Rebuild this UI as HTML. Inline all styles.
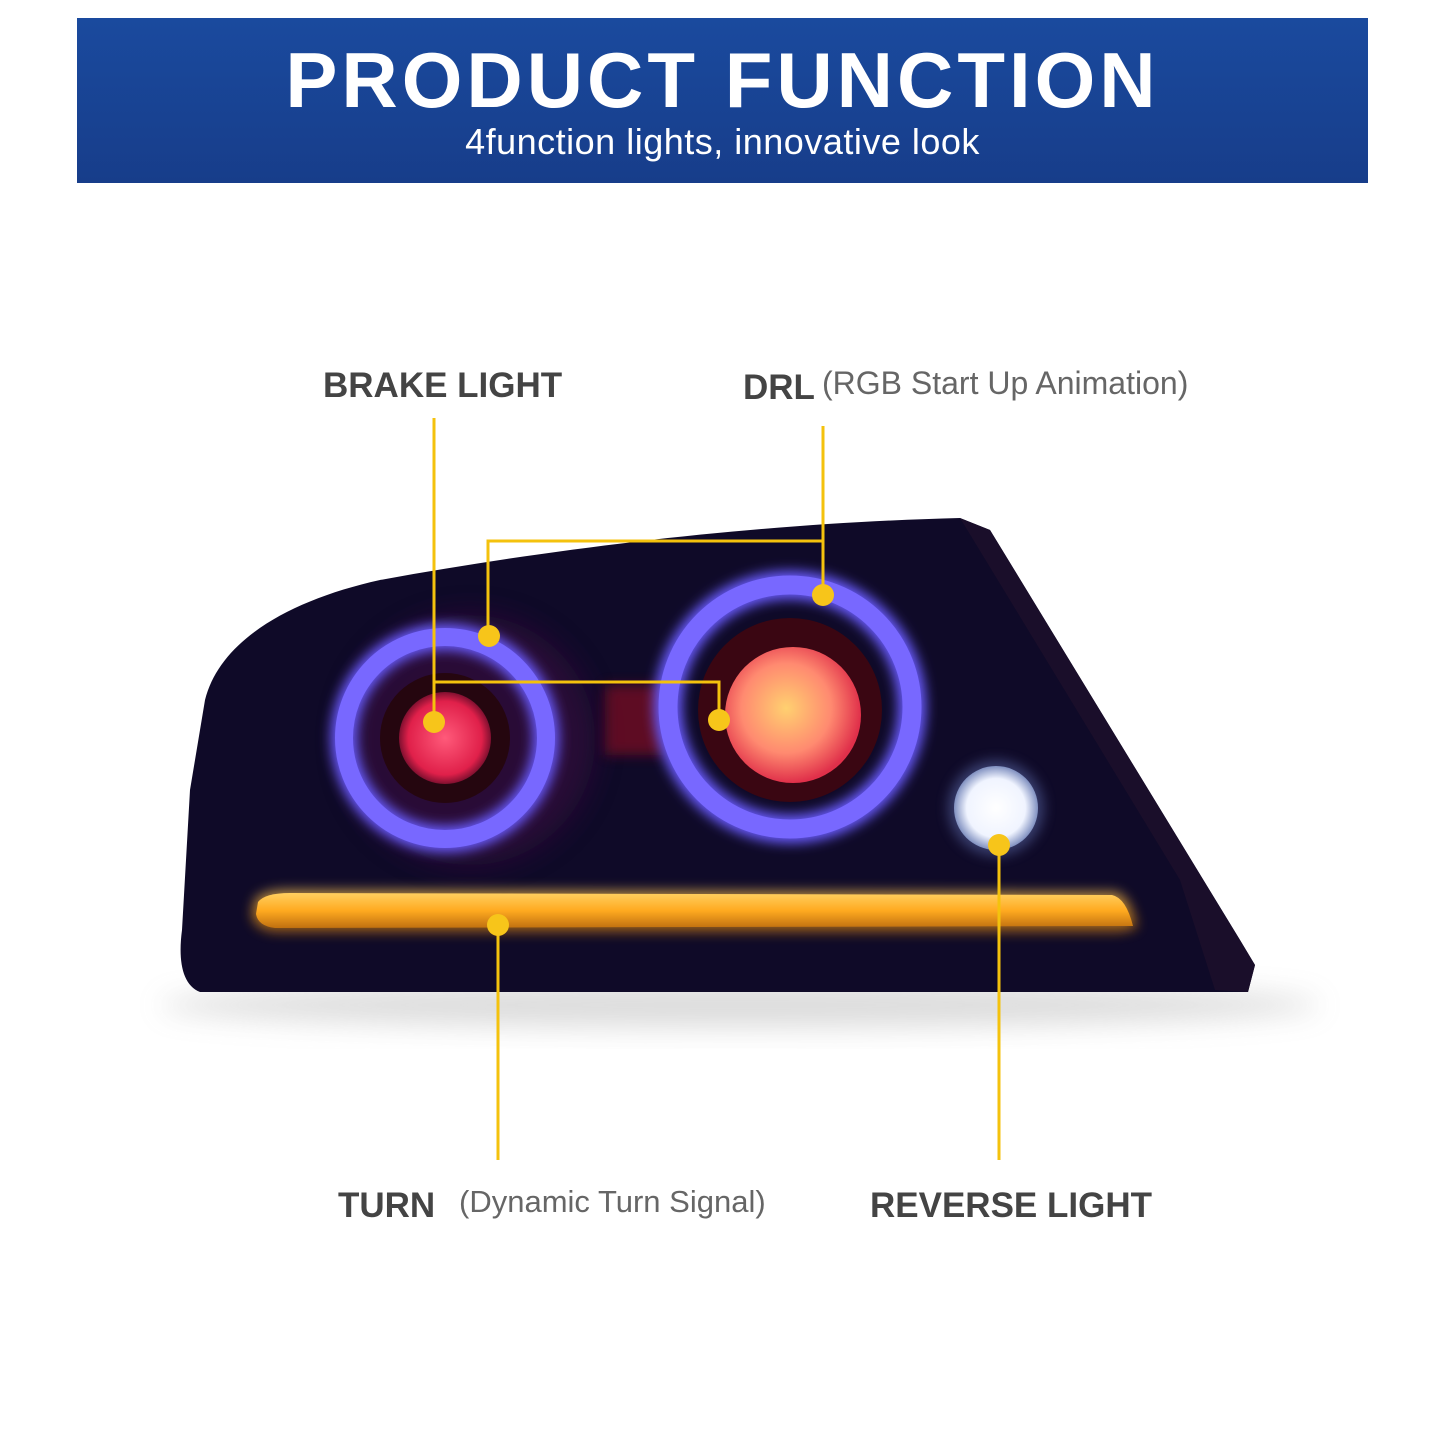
<!DOCTYPE html>
<html><head><meta charset="utf-8"><style>
html,body{margin:0;padding:0;background:#fff;}
body{width:1445px;height:1445px;position:relative;overflow:hidden;font-family:"Liberation Sans",sans-serif;}
.banner{position:absolute;left:77px;top:18px;width:1291px;height:165px;background:linear-gradient(#1a4a9e,#173d8a);}
.t1{position:absolute;left:0;width:1445px;text-align:center;top:38px;color:#fff;font-weight:bold;font-size:78px;letter-spacing:4px;line-height:84px;}
.t2{position:absolute;left:0;width:1445px;text-align:center;top:122px;color:#fff;font-size:36px;letter-spacing:0.5px;line-height:40px;}
.lb{position:absolute;font-weight:bold;font-size:35px;color:#444;line-height:40px;}
.sm{position:absolute;font-size:31px;color:#666;line-height:36px;}
svg{position:absolute;left:0;top:0;}
</style></head><body>
<div class="banner"></div>
<div class="t1">PRODUCT FUNCTION</div>
<div class="t2">4function lights, innovative look</div>
<svg width="1445" height="1445" viewBox="0 0 1445 1445">
<defs>
<filter id="b" x="-50%" y="-50%" width="200%" height="200%"><feGaussianBlur stdDeviation="6"/></filter>
<filter id="b2" x="-50%" y="-50%" width="200%" height="200%"><feGaussianBlur stdDeviation="14"/></filter>
<radialGradient id="r1" cx="0.5" cy="0.5" r="0.5"><stop offset="0" stop-color="#ff5a7a"/><stop offset="0.8" stop-color="#e0204a"/><stop offset="1" stop-color="#801030"/></radialGradient>
<radialGradient id="r2" cx="0.45" cy="0.45" r="0.55"><stop offset="0" stop-color="#ffd070"/><stop offset="0.6" stop-color="#ff8a70"/><stop offset="1" stop-color="#e0304a"/></radialGradient>
<radialGradient id="w" cx="0.5" cy="0.5" r="0.5"><stop offset="0" stop-color="#fff"/><stop offset="0.7" stop-color="#f0f4ff"/><stop offset="1" stop-color="#8090c0"/></radialGradient>
<linearGradient id="am" x1="0" y1="0" x2="0" y2="1"><stop offset="0" stop-color="#ffcf60"/><stop offset="0.5" stop-color="#ffaa20"/><stop offset="1" stop-color="#c07010"/></linearGradient>
</defs>
<ellipse cx="740" cy="1005" rx="580" ry="22" fill="#999" opacity="0.35" filter="url(#b2)"/>
<path d="M205,700 C220,640 290,600 380,580 C600,540 800,522 960,518 L990,530 L1240,940 L1255,965 L1248,992 L200,992 C182,985 178,960 182,930 L190,790 Z" fill="#0f0a28"/>
<path d="M960,518 L990,530 L1240,940 L1255,965 L1248,992 L1215,990 L1180,880 Z" fill="#1a0e2a"/>
<circle cx="470" cy="740" r="125" fill="#3a1040" opacity="0.6" filter="url(#b2)"/>
<rect x="605" y="685" width="60" height="70" fill="#801020" opacity="0.7" filter="url(#b)"/>
<circle cx="445" cy="738" r="101" fill="none" stroke="#6a5cff" stroke-width="26" filter="url(#b)"/>
<circle cx="445" cy="738" r="101" fill="none" stroke="#7868ff" stroke-width="18"/>
<circle cx="445" cy="738" r="65" fill="#25060f"/>
<circle cx="445" cy="738" r="46" fill="url(#r1)"/>
<circle cx="790" cy="707" r="122" fill="none" stroke="#6a5cff" stroke-width="28" filter="url(#b)"/>
<circle cx="790" cy="707" r="122" fill="none" stroke="#7868ff" stroke-width="19"/>
<circle cx="790" cy="710" r="92" fill="#3a0612"/>
<circle cx="793" cy="715" r="68" fill="url(#r2)"/>
<circle cx="996" cy="808" r="48" fill="#6070b0" opacity="0.5" filter="url(#b)"/>
<circle cx="996" cy="808" r="42" fill="url(#w)"/>
<path d="M255,900 Q262,890 290,890 L1115,892 Q1130,895 1137,928 L1120,932 L275,932 Q255,930 252,915 Z" fill="url(#am)" filter="url(#b)" opacity="0.7"/>
<path d="M258,902 Q265,893 290,893 L1112,895 Q1126,898 1133,926 L275,928 Q258,926 256,914 Z" fill="url(#am)"/>
<g stroke="#f4c20d" stroke-width="3" fill="none">
<path d="M434,418 V722"/>
<path d="M434,682 H719 V720"/>
<path d="M823,426 V595"/>
<path d="M823,541 H488 V636"/>
<path d="M498,925 V1160"/>
<path d="M999,845 V1160"/>
</g>
<g fill="#f7c51a">
<circle cx="434" cy="722" r="11"/><circle cx="719" cy="720" r="11"/>
<circle cx="823" cy="595" r="11"/><circle cx="489" cy="636" r="11"/>
<circle cx="498" cy="925" r="11"/><circle cx="999" cy="845" r="11"/>
</g>
</svg>
<div class="lb" style="left:323px;top:366px;">BRAKE LIGHT</div>
<div class="lb" style="left:743px;top:368px;">DRL</div>
<div class="sm" style="left:822px;top:365px;font-size:32px;">(RGB Start Up Animation)</div>
<div class="lb" style="left:338px;top:1186px;">TURN</div>
<div class="sm" style="left:459px;top:1184px;">(Dynamic Turn Signal)</div>
<div class="lb" style="left:870px;top:1186px;">REVERSE LIGHT</div>
</body></html>
